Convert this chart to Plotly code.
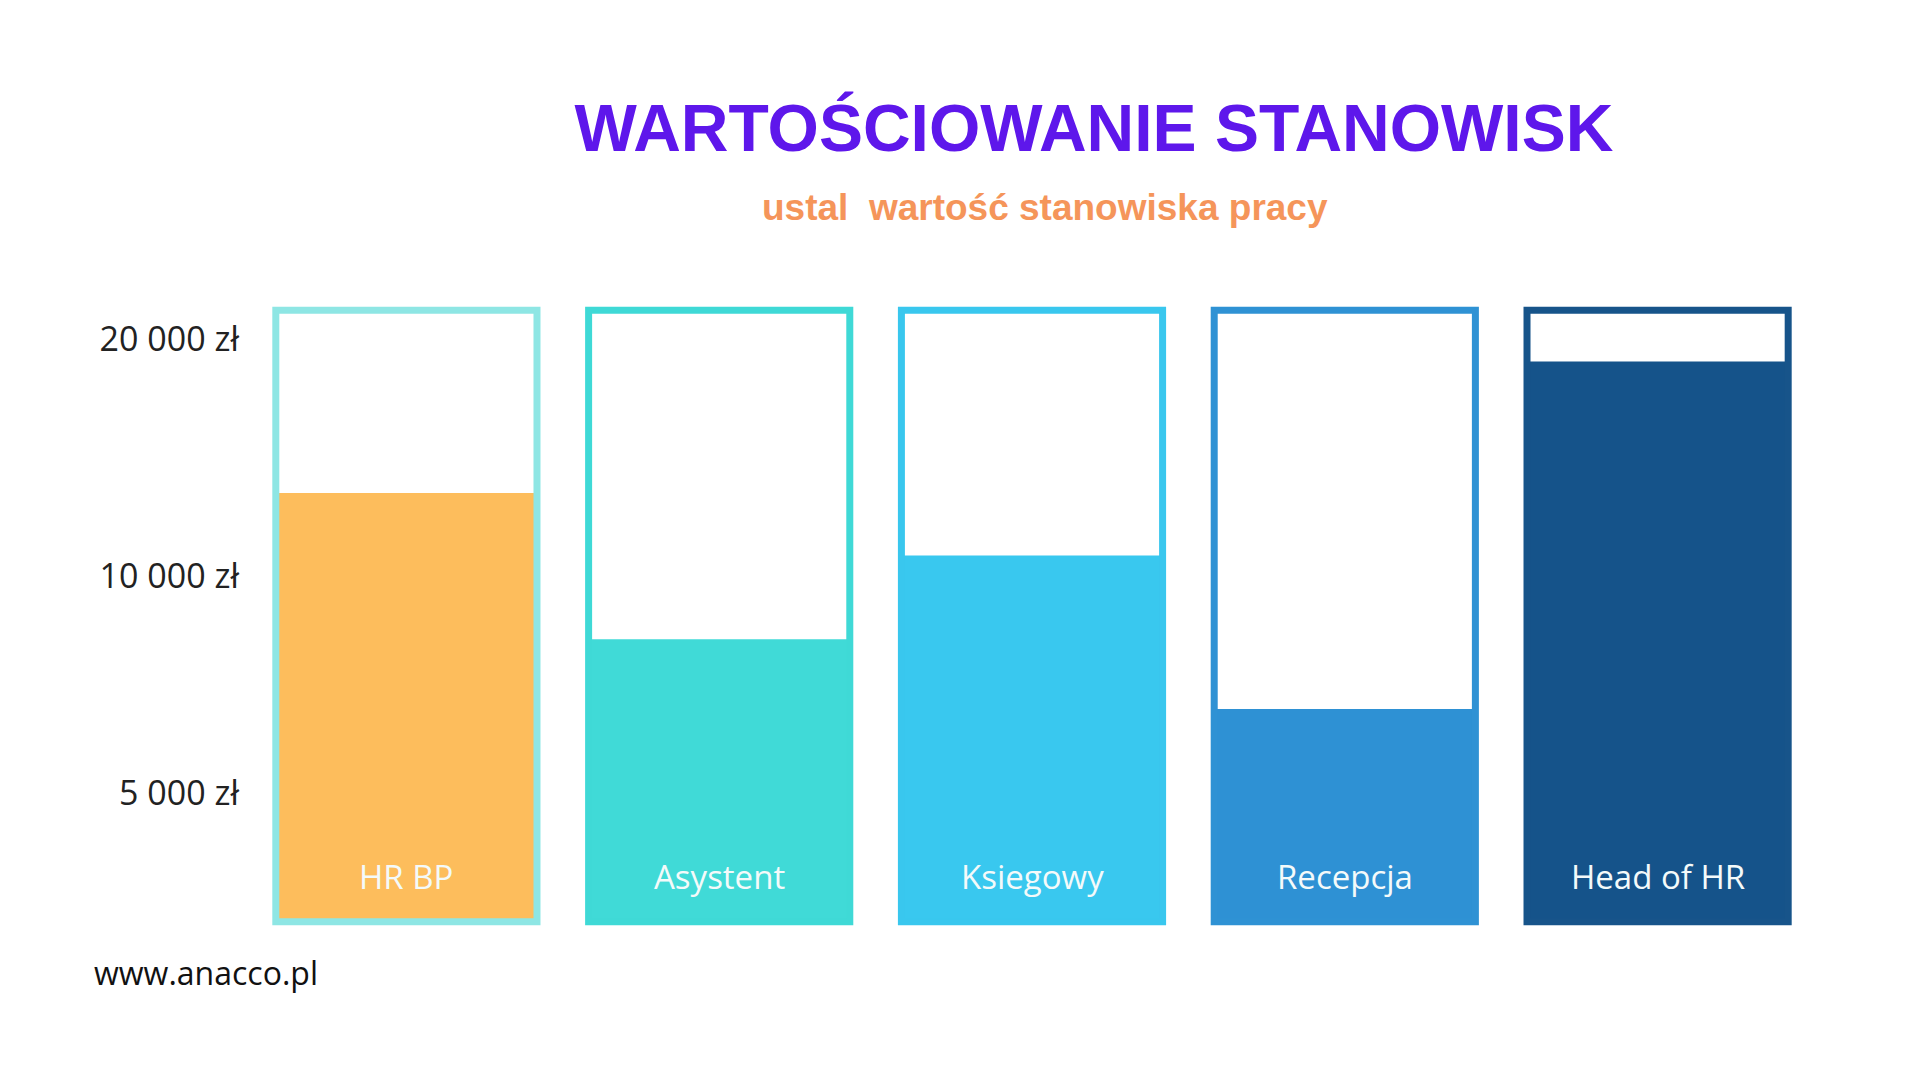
import plotly.graph_objects as go

# Stanowiska i poziom "wypełnienia" (skala 0-100 = pełna ramka)
positions = ["HR BP", "Asystent", "Ksiegowy", "Recepcja", "Head of HR"]
fill_levels = [70.1, 46.2, 59.9, 34.8, 91.6]
full_level = [100, 100, 100, 100, 100]

frame_colors = ["#8EE6E4", "#3FD9D6", "#39C7EE", "#2F92D4", "#17548A"]
fill_colors = ["#FDBD5C", "#40DAD7", "#39C8EF", "#2E91D4", "#15538A"]

# Oś pionowa - etykiety wynagrodzeń
tick_levels = [21, 56.5, 95.2]
tick_labels = ["5 000 zł", "10 000 zł", "20 000 zł"]

label_level = 7.4
bar_width = 0.835

fig = go.Figure()

# wypełnienie
fig.add_trace(go.Bar(
    x=positions, y=fill_levels, width=bar_width,
    marker=dict(color=fill_colors, line=dict(width=0)),
    hoverinfo="skip", showlegend=False,
))

# ramki na wierzchu
fig.add_trace(go.Bar(
    x=positions, y=full_level, width=bar_width,
    marker=dict(color="rgba(0,0,0,0)", line=dict(color=frame_colors, width=7)),
    hoverinfo="skip", showlegend=False,
))

# nazwy stanowisk w dolnej części słupków
for name in positions:
    fig.add_annotation(
        x=name, y=label_level, xref="x", yref="y",
        text=name, showarrow=False,
        font=dict(family="Open Sans", size=33, color="#F4FAFA"),
        xanchor="center", yanchor="middle",
    )

fig.add_annotation(
    x=0.508, y=1.142, xref="paper", yref="paper",
    text="<b>ustal  wartość stanowiska pracy</b>", showarrow=False,
    font=dict(family="Liberation Sans", size=37, color="#F5955A"),
    xanchor="center", yanchor="middle",
)

fig.add_annotation(
    x=-0.101, y=-0.061, xref="paper", yref="paper",
    text="www.anacco.pl", showarrow=False,
    font=dict(family="Open Sans", size=32, color="#111111"),
    xanchor="left", yanchor="middle",
)

fig.update_layout(
    width=1920, height=1080,
    margin=dict(l=242, r=114, t=290, b=154),
    paper_bgcolor="white", plot_bgcolor="white",
    barmode="overlay",
    title=dict(
        text="<b>WARTOŚCIOWANIE STANOWISK</b>",
        font=dict(family="Liberation Sans", size=66, color="#5E17EB"),
        x=0.5656, xref="container", xanchor="center",
        y=0.8889, yref="container", yanchor="middle",
    ),
    xaxis=dict(range=[-0.5, 4.5], showticklabels=False, showgrid=False,
               zeroline=False, showline=False),
    yaxis=dict(range=[-2, 102], tickvals=tick_levels, ticktext=tick_labels,
               tickfont=dict(family="Open Sans", size=34, color="#222222"),
               ticklabelstandoff=10,
               showgrid=False, zeroline=False, showline=False),
)

fig.write_html("out.html")
